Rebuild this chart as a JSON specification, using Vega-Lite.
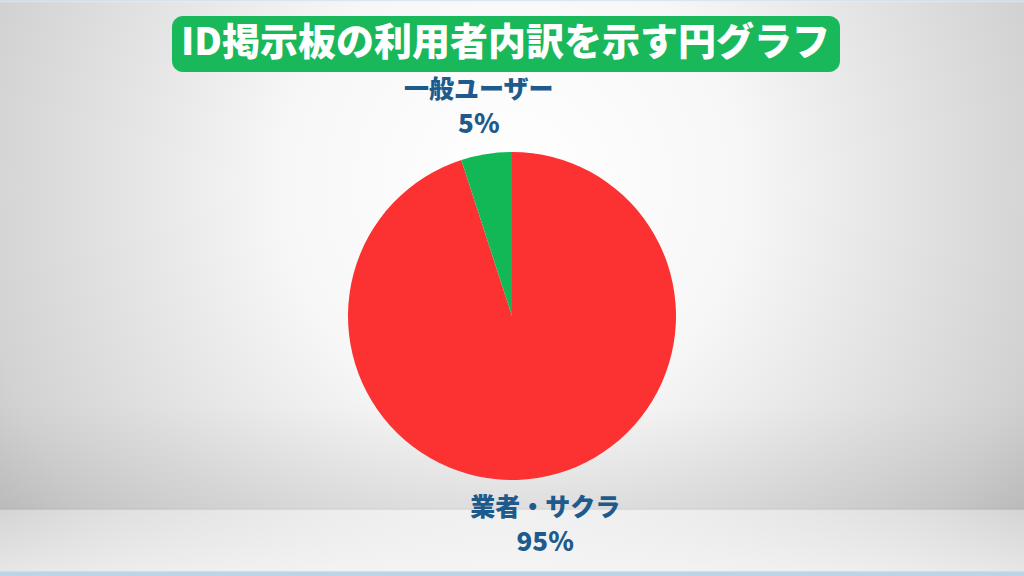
{
  "$schema": "https://vega.github.io/schema/vega-lite/v6.json",
  "width": 1024,
  "height": 576,
  "autosize": {"type": "fit", "contains": "padding"},
  "padding": 0,
  "background": "#d0d0d0",
  "config": {"view": {"stroke": null}},
  "layer": [
    {
      "data": {"values": [{"backdrop": 1}]},
      "mark": {
        "type": "rect",
        "fill": {
          "gradient": "radial",
          "x1": 0.5, "y1": 0.4, "r1": 0,
          "x2": 0.5, "y2": 0.4, "r2": 0.75,
          "stops": [
            {"offset": 0, "color": "#ffffff"},
            {"offset": 0.3, "color": "#f7f7f7"},
            {"offset": 0.7, "color": "#d2d2d2"},
            {"offset": 1, "color": "#ababab"}
          ]
        }
      },
      "encoding": {}
    },
    {
      "data": {"values": [{"floor": 1}]},
      "mark": {
        "type": "rect",
        "fill": {
          "gradient": "linear",
          "x1": 0, "y1": 0, "x2": 0, "y2": 1,
          "stops": [
            {"offset": 0, "color": "rgba(200,220,235,0.9)"},
            {"offset": 0.005, "color": "rgba(255,255,255,0)"},
            {"offset": 0.7, "color": "rgba(0,0,0,0)"},
            {"offset": 0.882, "color": "rgba(0,0,0,0.06)"},
            {"offset": 0.886, "color": "rgba(255,255,255,0.25)"},
            {"offset": 0.99, "color": "rgba(255,255,255,0.6)"},
            {"offset": 0.993, "color": "rgba(190,212,230,1)"},
            {"offset": 1, "color": "rgba(190,212,230,1)"}
          ]
        }
      },
      "encoding": {}
    },
    {
      "data": {
        "values": [
          {"category": "業者・サクラ", "share": 0.95, "order": 1},
          {"category": "一般ユーザー", "share": 0.05, "order": 2}
        ]
      },
      "encoding": {
        "theta": {"field": "share", "type": "quantitative", "stack": true},
        "order": {"field": "order", "type": "quantitative"}
      },
      "layer": [
        {
          "mark": {"type": "arc", "outerRadius": 164, "yOffset": 28},
          "encoding": {
            "color": {
              "field": "category",
              "type": "nominal",
              "scale": {"domain": ["業者・サクラ", "一般ユーザー"], "range": ["#fc3232", "#12b856"]},
              "legend": {
                "title": "ID掲示板の利用者内訳を示す円グラフ",
                "values": [],
                "orient": "none",
                "legendX": 172,
                "legendY": 16,
                "fillColor": "#19b85a",
                "cornerRadius": 11,
                "padding": 9,
                "titleColor": "#ffffff",
                "titleFont": "Noto Sans CJK JP",
                "titleFontSize": 38,
                "titleFontWeight": 900,
                "titlePadding": 0,
                "titleLimit": 1000
              }
            }
          }
        },
        {
          "mark": {"type": "text", "radius": 212, "yOffset": 28, "dy": -17, "font": "Noto Sans CJK JP", "fontSize": 25, "fontWeight": 900, "color": "#1e5a8c"},
          "encoding": {"text": {"field": "category", "type": "nominal"}}
        },
        {
          "mark": {"type": "text", "radius": 212, "yOffset": 28, "dy": 18, "font": "Noto Sans CJK JP", "fontSize": 26, "fontWeight": 900, "color": "#1e5a8c"},
          "encoding": {"text": {"field": "share", "type": "quantitative", "format": ".0%"}}
        }
      ]
    }
  ]
}
